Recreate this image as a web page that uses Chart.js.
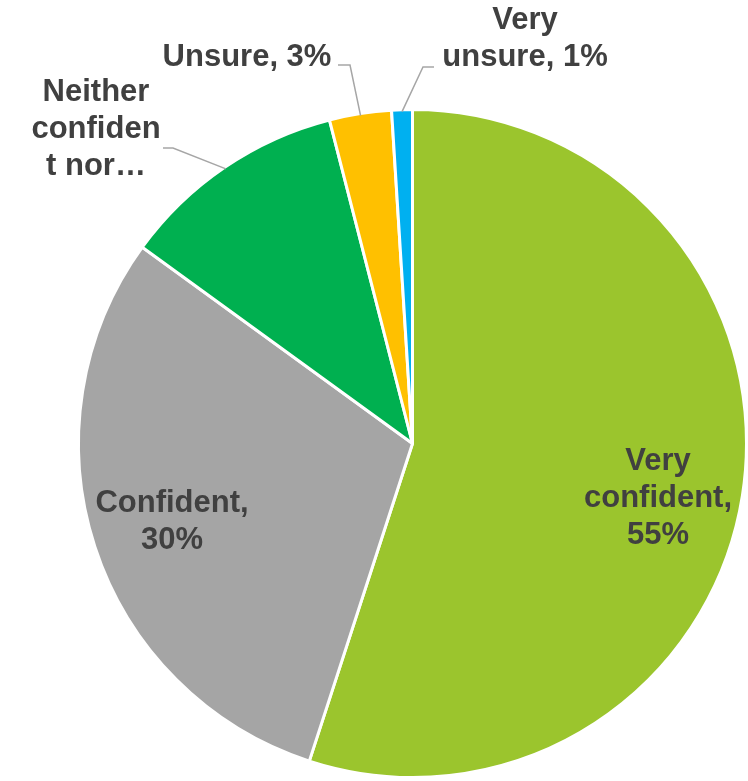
<!DOCTYPE html>
<html lang="en">
<head>
    <meta charset="UTF-8">
    <title>Confidence</title>
    <script src="https://cdn.jsdelivr.net/npm/chart.js"></script>
    <style>
        html, body { margin: 0; padding: 0; background: #ffffff; }
        #wrap { position: relative; width: 748px; height: 781px; }
    </style>
</head>
<body>
<div id="wrap">
    <canvas id="myChart" width="748" height="781"></canvas>
</div>

<script>
    // categories and shares (%)
    const categories = ['Very confident', 'Confident', 'Neither confident nor unsure', 'Unsure', 'Very unsure'];
    const values = [55, 30, 11, 3, 1];
    const colors = ['#9BC52D', '#A5A5A5', '#00B050', '#FFC000', '#00B0F0'];

    // text lines of each data label (the percent is added from values)
    const labelLines = [
        ['Very', 'confident,'],
        ['Confident,'],
        ['Neither', 'confiden', 't nor…'],
        ['Unsure,'],
        ['Very', 'unsure,']
    ];
    const showValue = [true, true, false, true, true];

    // where each label sits; leader = elbow point of the callout line (null = inside the slice)
    const labelPos = [
        { x: 658, y: 461, join: false, leader: null },
        { x: 172, y: 503, join: false, leader: null },
        { x: 96, y: 92, join: false, leader: { x1: 163, y1: 148, x2: 173, y2: 148 } },
        { x: 247, y: 57, join: true, leader: { x1: 338, y1: 65, x2: 350, y2: 65 } },
        { x: 525, y: 20, join: true, leader: { x1: 434, y1: 67, x2: 423, y2: 67 } }
    ];

    // draws the data labels and the gray callout lines
    const pieLabels = {
        id: 'pieLabels',
        afterDatasetsDraw(chart) {
            const ctx = chart.ctx;
            const meta = chart.getDatasetMeta(0);
            ctx.save();
            ctx.font = 'bold 31px "Liberation Sans", Arial, sans-serif';
            ctx.fillStyle = '#404040';
            ctx.textAlign = 'center';
            ctx.textBaseline = 'middle';
            const lh = 37;

            meta.data.forEach(function (arc, i) {
                const p = labelPos[i];
                let lines = labelLines[i].slice();
                if (showValue[i]) {
                    if (p.join) {
                        lines[lines.length - 1] = lines[lines.length - 1] + ' ' + values[i] + '%';
                    } else {
                        lines.push(values[i] + '%');
                    }
                }
                lines.forEach(function (t, k) {
                    ctx.fillText(t, p.x, p.y + k * lh);
                });

                if (p.leader) {
                    // end of the leader on the slice edge, at the middle angle
                    const mid = (arc.startAngle + arc.endAngle) / 2;
                    const ex = arc.x + Math.cos(mid) * (arc.outerRadius - 2);
                    const ey = arc.y + Math.sin(mid) * (arc.outerRadius - 2);
                    ctx.strokeStyle = '#A6A6A6';
                    ctx.lineWidth = 1.5;
                    ctx.beginPath();
                    ctx.moveTo(p.leader.x1, p.leader.y1);
                    ctx.lineTo(p.leader.x2, p.leader.y2);
                    ctx.lineTo(ex, ey);
                    ctx.stroke();
                }
            });
            ctx.restore();
        }
    };

    const data = {
        labels: categories,
        datasets: [{
            data: values,
            backgroundColor: colors,
            borderColor: '#ffffff',
            borderWidth: 3
        }]
    };

    const config = {
        type: 'pie',
        data: data,
        options: {
            responsive: false,
            animation: false,
            layout: {
                // the pie runs slightly past the right edge
                padding: { left: 77, right: -2, top: 108, bottom: 2 }
            },
            plugins: {
                legend: { display: false },
                tooltip: { enabled: false }
            }
        },
        plugins: [pieLabels]
    };

    const myChart = new Chart(document.getElementById('myChart'), config);
</script>
</body>
</html>
